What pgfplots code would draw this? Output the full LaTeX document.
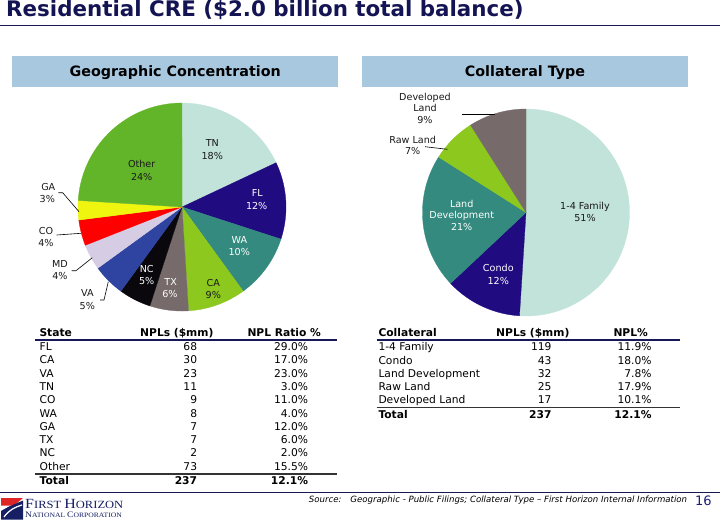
\documentclass[border=0pt]{standalone}
\usepackage{pgfplots}
\pgfplotsset{compat=1.18}
\usepackage{fontspec}
\setmainfont{DejaVu Sans}
\newfontfamily\logofont{Liberation Serif}
\definecolor{navy}{RGB}{24,24,88}
\definecolor{titlec}{RGB}{20,20,84}
\definecolor{hdr}{RGB}{168,200,224}
\definecolor{pagec}{RGB}{30,30,120}
\definecolor{logored}{RGB}{222,38,38}
\definecolor{logonavy}{RGB}{22,30,100}
\definecolor{cTN}{RGB}{193,227,217}
\definecolor{cFL}{RGB}{32,11,128}
\definecolor{cWA}{RGB}{52,138,126}
\definecolor{cCA}{RGB}{140,200,30}
\definecolor{cTX}{RGB}{118,106,106}
\definecolor{cNC}{RGB}{10,8,12}
\definecolor{cVA}{RGB}{46,68,160}
\definecolor{cMD}{RGB}{214,204,228}
\definecolor{cCO}{RGB}{255,0,0}
\definecolor{cGA}{RGB}{240,245,15}
\definecolor{cOther}{RGB}{98,180,40}
\definecolor{txt}{RGB}{25,25,25}
\newcommand\fs[1]{\fontsize{#1}{#1}\selectfont}
% slice from cumulative percent #1 to #2, clockwise from 12 o'clock
\newcommand\slice[3]{\addplot[fill=#3,draw=#3,line width=0.3pt,no markers,domain=#1:#2,samples=60]
  ({cos(90-3.6*x)},{sin(90-3.6*x)}) -- (axis cs:0,0) -- cycle;}
\newcommand\plab[4]{\node[anchor=base,inner sep=0pt,text=#3,font=\fs{9.6}] at (#1,#2) {#4};}
\newcommand\lrow[4]{\node[anchor=base west] at (39.5,#1) {#2};
  \node[anchor=base east] at (197.3,#1) {#3};
  \node[anchor=base east] at (308.3,#1) {#4};}
\newcommand\rrow[4]{\node[anchor=base west] at (378.3,#1) {#2};
  \node[anchor=base east] at (551.7,#1) {#3};
  \node[anchor=base east] at (651.7,#1) {#4};}
\begin{document}
\begin{tikzpicture}[x=1pt,y=-1pt]
\path[use as bounding box, fill=white] (0,0) rectangle (720,520);
% title
\node[anchor=base west,inner sep=0pt,text=titlec,font=\bfseries\fs{21.4}] at (6,16.7) {Residential CRE (\$2.0 billion total balance)};
\draw[navy,line width=1.6pt] (0,25.5) -- (720,25.5);
% header boxes
\fill[hdr] (12.3,56) rectangle (338,86.5);
\fill[hdr] (362,56) rectangle (688,86.5);
\node[anchor=base,inner sep=0pt,font=\bfseries\fs{14.3}] at (175.2,76.7) {Geographic Concentration};
\node[anchor=base,inner sep=0pt,font=\bfseries\fs{14.3}] at (525,76.7) {Collateral Type};

% left pie: geographic concentration (percent)
\begin{axis}[at={(182pt,-207pt)},anchor=center,scale only axis,width=208pt,height=208pt,
  xmin=-1,xmax=1,ymin=-1,ymax=1,hide axis,clip=false]
\slice{0}{18}{cTN}
\slice{18}{30}{cFL}
\slice{30}{40}{cWA}
\slice{40}{49}{cCA}
\slice{49}{55}{cTX}
\slice{55}{60}{cNC}
\slice{60}{65}{cVA}
\slice{65}{69}{cMD}
\slice{69}{73}{cCO}
\slice{73}{76}{cGA}
\slice{76}{100}{cOther}
\end{axis}

% right pie: collateral type (percent)
\begin{axis}[at={(526pt,-212.5pt)},anchor=center,scale only axis,width=207pt,height=207pt,
  xmin=-1,xmax=1,ymin=-1,ymax=1,hide axis,clip=false]
\slice{0}{51}{cTN}
\slice{51}{63}{cFL}
\slice{63}{84}{cWA}
\slice{84}{91}{cCA}
\slice{91}{100}{cTX}
\end{axis}

% left pie labels
\plab{212.3}{146.8}{txt}{TN}\plab{212.3}{159.5}{txt}{18\%}
\plab{257.3}{196.8}{white}{FL}\plab{256.7}{209.2}{white}{12\%}
\plab{239.3}{243.5}{white}{WA}\plab{239.3}{255.8}{white}{10\%}
\plab{213.3}{286.8}{txt}{CA}\plab{213.3}{298.5}{txt}{9\%}
\plab{170.7}{285.8}{white}{TX}\plab{170}{297.8}{white}{6\%}
\plab{146.7}{272.5}{white}{NC}\plab{146.7}{284.5}{white}{5\%}
\plab{141.7}{167.5}{txt}{Other}\plab{141.7}{180.2}{txt}{24\%}
\plab{48.3}{190.2}{txt}{GA}\plab{47.3}{202.2}{txt}{3\%}
\plab{46}{234.2}{txt}{CO}\plab{46}{246.2}{txt}{4\%}
\plab{60}{267.5}{txt}{MD}\plab{60}{279.5}{txt}{4\%}
\plab{87.3}{296.8}{txt}{VA}\plab{87.3}{309.5}{txt}{5\%}
\draw[black,line width=0.6pt] (58.3,192.7) -- (62.7,192.7) -- (79,211.7);
\draw[black,line width=0.6pt] (56.7,235) -- (81,233.3);
\draw[black,line width=0.6pt] (71.7,270.7) -- (76,270.7) -- (92.3,257.7);
\draw[black,line width=0.6pt] (100,300) -- (104,300) -- (108.3,281.7);

% right pie labels
\plab{425}{100.2}{txt}{Developed}\plab{425}{111.8}{txt}{Land}\plab{425}{123.5}{txt}{9\%}
\plab{412.7}{143.5}{txt}{Raw Land}\plab{412.7}{154.5}{txt}{7\%}
\plab{461.7}{207.5}{white}{Land}\plab{461.7}{218.8}{white}{Development}\plab{461.7}{230.2}{white}{21\%}
\plab{498.3}{271.8}{white}{Condo}\plab{498.3}{284.5}{white}{12\%}
\plab{585}{209.5}{txt}{1-4 Family}\plab{585}{221.2}{txt}{51\%}
\draw[black,line width=0.6pt] (461.7,114.3) -- (495,114.3);
\draw[black,line width=0.6pt] (425,146.7) -- (447.3,149.3);

% tables
\begin{scope}[every node/.style={inner sep=0pt,font=\fs{10.7},text=black}]
\node[anchor=base west,font=\bfseries\fs{10.7}] at (39.3,336) {State};
\node[anchor=base west,font=\bfseries\fs{10.7}] at (140,336) {NPLs (\$mm)};
\node[anchor=base west,font=\bfseries\fs{10.7}] at (247.3,336) {NPL Ratio \%};
\draw[navy,line width=2pt] (35,340) -- (336.7,340);
\lrow{350.7}{FL}{68}{29.0\%}
\lrow{363.96}{CA}{30}{17.0\%}
\lrow{377.22}{VA}{23}{23.0\%}
\lrow{390.48}{TN}{11}{3.0\%}
\lrow{403.74}{CO}{9}{11.0\%}
\lrow{417.0}{WA}{8}{4.0\%}
\lrow{430.26}{GA}{7}{12.0\%}
\lrow{443.52}{TX}{7}{6.0\%}
\lrow{456.78}{NC}{2}{2.0\%}
\lrow{470.04}{Other}{73}{15.5\%}
\draw[black!80,line width=1.3pt] (35,474) -- (336.7,474);
\begin{scope}[every node/.style={inner sep=0pt,font=\bfseries\fs{10.7}}]
\lrow{484.5}{Total}{237}{12.1\%}
\end{scope}

\node[anchor=base west,font=\bfseries\fs{10.7}] at (378.3,336) {Collateral};
\node[anchor=base west,font=\bfseries\fs{10.7}] at (496,336) {NPLs (\$mm)};
\node[anchor=base west,font=\bfseries\fs{10.7}] at (613.3,336) {NPL\%};
\draw[navy,line width=2pt] (376.7,340.3) -- (680,340.3);
\rrow{350.7}{1-4 Family}{119}{11.9\%}
\rrow{364.0}{Condo}{43}{18.0\%}
\rrow{377.3}{Land Development}{32}{7.8\%}
\rrow{390.6}{Raw Land}{25}{17.9\%}
\rrow{403.9}{Developed Land}{17}{10.1\%}
\draw[black!80,line width=1.3pt] (376.7,407.5) -- (680,407.5);
\begin{scope}[every node/.style={inner sep=0pt,font=\bfseries\fs{10.7}}]
\rrow{418}{Total}{237}{12.1\%}
\end{scope}
\end{scope}

% footer
\draw[navy,line width=1.8pt] (0,492.5) -- (720,492.5);
\node[anchor=base east,inner sep=0pt,font=\itshape\fs{8.6}] at (687.3,502.5) {Source:\hspace{9pt}Geographic - Public Filings; Collateral Type – First Horizon Internal Information};
\node[anchor=base west,inner sep=0pt,text=pagec,font=\fs{13}] at (695,505) {16};
% logo
\fill[logored] (1,498) -- (23,498) -- (14,505.5) -- (1,505.5) -- cycle;
\fill[logonavy] (1,519.5) -- (1,511) -- (9,506.5) -- (23,500.5) -- (23,519.5) -- cycle;
\draw[white,line width=1.2pt] (4,517) .. controls (9,510) and (15,507) .. (22,505);
\node[anchor=base west,inner sep=0pt,text=logonavy] at (25,508.5) {\scalebox{1.14}[1]{\logofont\fs{14}F\fs{11}IRST \fs{14}H\fs{11}ORIZON}};
\node[anchor=base west,inner sep=0pt,text=logonavy] at (25,517) {\scalebox{1.14}[1]{\logofont\fs{8.4}N\fs{6.7}ATIONAL \fs{8.4}C\fs{6.7}ORPORATION}};
\end{tikzpicture}
\end{document}
